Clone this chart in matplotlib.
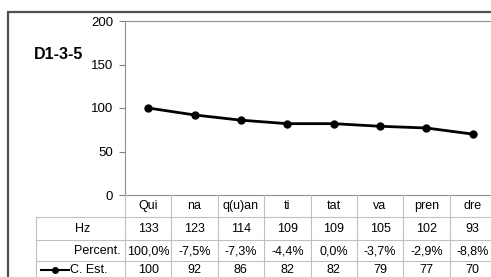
import numpy as np
import matplotlib
matplotlib.use("Agg")
from matplotlib import pyplot as plt
from matplotlib import transforms
from matplotlib.lines import Line2D
from matplotlib.patches import Rectangle

plt.rcParams['font.family'] = ['Liberation Sans', 'DejaVu Sans']

# data
syllables = ["Qui", "na", "q(u)an", "ti", "tat", "va", "pren", "dre"]
hz = [133, 123, 114, 109, 109, 105, 102, 93]
percent = ["100,0%", "-7,5%", "-7,3%", "-4,4%", "0,0%", "-3,7%", "-2,9%", "-8,8%"]
c_est = [100, 92, 86, 82, 82, 79, 77, 70]
title = "D1-3-5"

W, H = 491, 277
def fx(x):
    return x / W
def fy(y):
    return 1 - y / H

fig = plt.figure(figsize=(W / 100, H / 100), dpi=100)

# outer frame
fig.add_artist(Rectangle((fx(8), fy(300)), fx(500), fy(12) - fy(300),
                         transform=fig.transFigure, fill=False,
                         edgecolor="#505050", linewidth=1.6, clip_on=False))

ax = fig.add_axes([fx(125), fy(195), fx(496) - fx(125), fy(21) - fy(195)])
x = np.arange(len(syllables))
ax.plot(x, c_est, color="black", linewidth=2, marker="o", markersize=5)
ax.set_xlim(-0.5, len(syllables) - 0.5)
ax.set_ylim(0, 200)
ax.set_yticks([0, 50, 100, 150, 200])
ax.set_xticks([])
ax.tick_params(axis="y", direction="out", length=4, width=0.8, color="#808080",
               labelsize=9.5, pad=4.5)
for s in ["left", "bottom", "top"]:
    ax.spines[s].set_color("#909090")
    ax.spines[s].set_linewidth(0.8)
ax.spines["right"].set_visible(False)
ax.patch.set_visible(False)

fig.text(fx(34), fy(55), title, fontsize=11.5, fontweight="bold", va="center", ha="left")

# table
blend = transforms.blended_transform_factory(ax.transData, fig.transFigure)
grid_c = "#c0c0c0"
row_lines = [217, 240, 261]
for y in row_lines:
    fig.add_artist(Line2D([fx(36), 1.02], [fy(y), fy(y)], transform=fig.transFigure,
                          color=grid_c, linewidth=0.8))
fig.add_artist(Line2D([fx(36), fx(36)], [fy(217), 0], transform=fig.transFigure,
                      color=grid_c, linewidth=0.8))
for i in range(len(syllables) + 1):
    fig.add_artist(Line2D([i - 0.5, i - 0.5], [fy(195), 0], transform=blend,
                          color=grid_c, linewidth=0.8))

fs = 9
for i, s in enumerate(syllables):
    fig.text(i, fy(206), s, transform=blend, ha="center", va="center", fontsize=fs)
    fig.text(i, fy(229), str(hz[i]), transform=blend, ha="center", va="center", fontsize=fs)
    fig.text(i, fy(251), percent[i], transform=blend, ha="center", va="center", fontsize=fs)
    fig.text(i, fy(270), str(c_est[i]), transform=blend, ha="center", va="center", fontsize=fs)

fig.text(fx(75), fy(229), "Hz", ha="left", va="center", fontsize=fs)
fig.text(fx(74), fy(251), "Percent.", ha="left", va="center", fontsize=fs)
fig.text(fx(70), fy(270), "C. Est.", ha="left", va="center", fontsize=fs)
fig.add_artist(Line2D([fx(41), fx(69)], [fy(270), fy(270)], transform=fig.transFigure,
                      color="black", linewidth=1.5))
fig.add_artist(Line2D([fx(55)], [fy(270)], transform=fig.transFigure,
                      color="black", marker="o", markersize=4))

fig.savefig("out.png", dpi=100)
